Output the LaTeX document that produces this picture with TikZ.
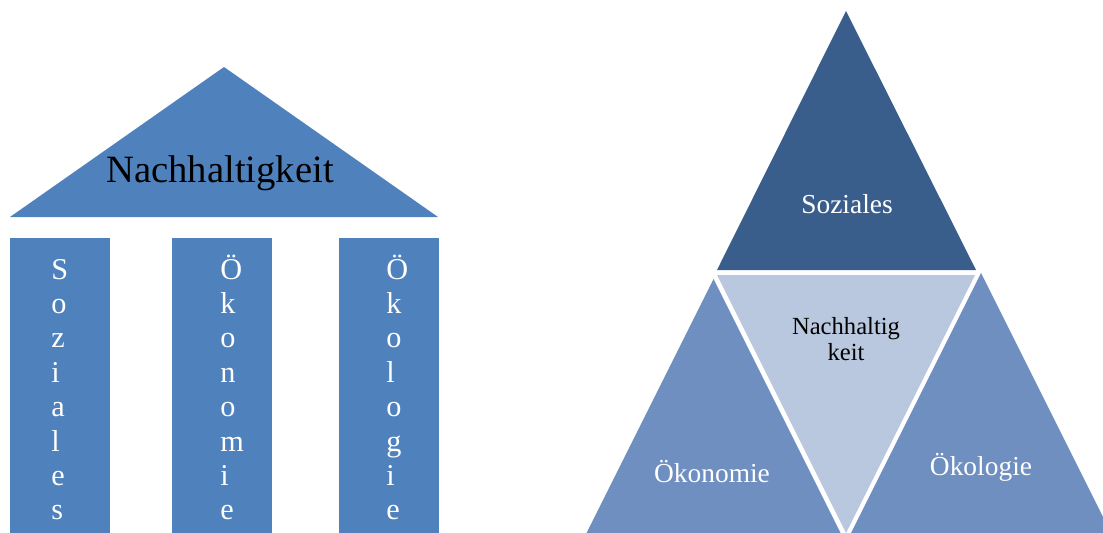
\documentclass[tikz,border=0pt]{standalone}
\usepackage{fontspec}
\setmainfont{Liberation Serif}
\definecolor{pillarblue}{HTML}{4F81BD}
\definecolor{topblue}{HTML}{3A5E8C}
\definecolor{sideblue}{HTML}{6E8FC0}
\definecolor{coreblue}{HTML}{B9C7DF}

\begin{document}
\begin{tikzpicture}[
  x=0.025cm, y=-0.025cm,
  pillar/.style={fill=pillarblue},
  pillartext/.style={anchor=base west, inner sep=0pt, text=white, font=\fontsize{21.5}{25}\selectfont},
  tritext/.style={anchor=base, inner sep=0pt, align=center, text=white, font=\fontsize{19.5}{23}\selectfont}
]
\useasboundingbox (0,0) rectangle (1103,532);
\clip (0,0) rectangle (1103,532);

% temple
\fill[pillarblue] (10,217) -- (224,67) -- (438,217) -- cycle;
\node[anchor=base, inner sep=0pt, font=\fontsize{27.5}{30}\selectfont] (roof) at (220,182) {Nachhaltigkeit};

\fill[pillar] (10,238) rectangle (110,540);
\fill[pillar] (172,238) rectangle (272,540);
\fill[pillar] (339,238) rectangle (439,540);

\foreach \ch [count=\i from 0] in {S,o,z,i,a,l,e,s}
  \node[pillartext] (soz\i) at (51,279+34.4*\i) {\ch};
\foreach \ch [count=\i from 0] in {Ö,k,o,n,o,m,i,e}
  \node[pillartext] (oekon\i) at (220,279+34.4*\i) {\ch};
\foreach \ch [count=\i from 0] in {Ö,k,o,l,o,g,i,e}
  \node[pillartext] (oekol\i) at (386,279+34.4*\i) {\ch};

% pyramid
\fill[topblue] (846,11) -- (976,270) -- (717,270) -- cycle;
\fill[coreblue] (717,275) -- (975,275) -- (846,533) -- cycle;
\fill[sideblue] (713.5,279) -- (844,540) -- (583,540) -- cycle;
\fill[sideblue] (981,273) -- (1114.5,540) -- (847.5,540) -- cycle;

\node[tritext] (soziales) at (847,213) {Soziales};
\node[tritext, anchor=center, text=black, font=\fontsize{17.5}{18}\selectfont] (kern) at (846,339) {Nachhaltig\\keit};
\node[tritext] (oekonomie) at (712,482) {Ökonomie};
\node[tritext] (oekologie) at (981,475) {Ökologie};

\end{tikzpicture}
\end{document}
